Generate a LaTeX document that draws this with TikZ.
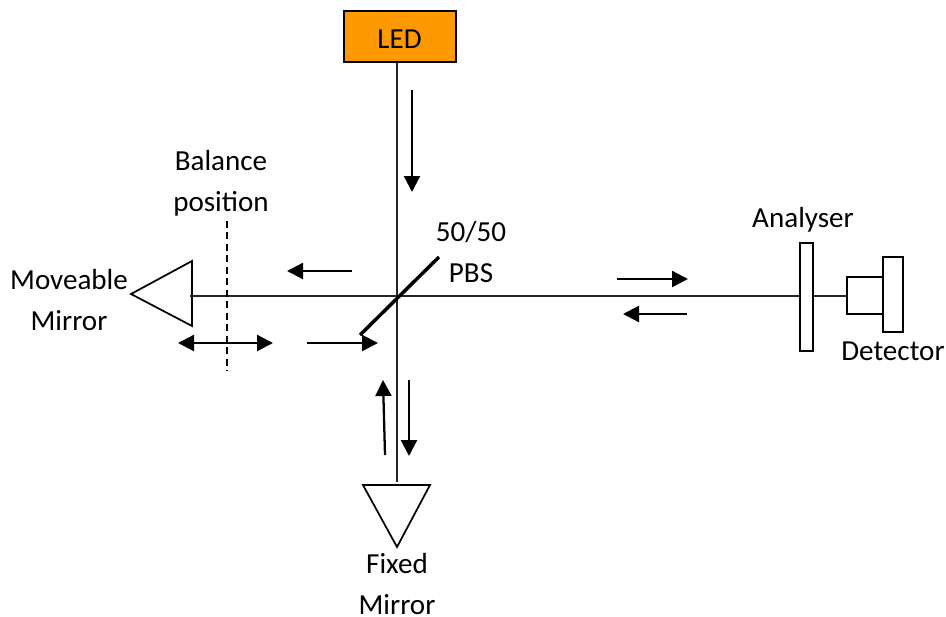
\documentclass[tikz,border=0pt]{standalone}
\usepackage{fontspec}
\setmainfont{Carlito}
\usetikzlibrary{arrows.meta}
\definecolor{ledorange}{RGB}{255,153,0}
\begin{document}
\begin{tikzpicture}[
x=0.75pt,y=-0.75pt,
recnode/.style={rectangle, draw=black, line width=1.5pt, fill=white, inner sep=0pt},
lednode/.style={recnode, fill=ledorange, minimum width=84pt, minimum height=38pt},
txtnode/.style={align=center, inner sep=0pt, font=\fontsize{21.8}{30.4}\selectfont},
beam/.style={draw=black!85, line width=1.4pt},
mirror/.style={draw=black, line width=1.3pt, line join=miter, fill=white},
flow/.style={-{Triangle[length=12pt,width=12pt]}, line width=1.7pt},
]
\useasboundingbox (0,0) rectangle (946,617);
%Points
\coordinate (cen) at (397,296);
\coordinate (mlo) at (192,326);
\coordinate (mup) at (192,261);
\coordinate (mtip) at (131,294);
\coordinate (mbeam) at (190,296);
\coordinate (fl) at (363,485);
\coordinate (fr) at (430,485);
\coordinate (ftip) at (397,547);
\coordinate (fbeam) at (397,482);
\coordinate (bs1) at (360,335);
\coordinate (bs2) at (439,257);
\coordinate (bal1) at (227,221);
\coordinate (bal2) at (227,371);
%Beams
\draw[mirror] (mtip) -- (mup) -- (mlo) -- cycle;
\draw[mirror] (fl) -- (fr) -- (ftip) -- cycle;
\draw[beam] (mbeam) -- (847,296);
%Nodes
\node[lednode](led) at (399.5,36.5){};
\node[txtnode] (ledtxt) at (399.5,39.5){LED};
\node[recnode,minimum width=9.5pt,minimum height=81pt](ana) at (806.5,297){};
\node[recnode,minimum width=27pt,minimum height=28pt](detsmall) at (865,295.5){};
\node[recnode,minimum width=15pt,minimum height=56pt](detbig) at (893,294.5){};
\node[txtnode](balance) at (221,183){Balance\\position};
\node[txtnode](pbs) at (471,252){50/50\\PBS};
\node[txtnode](moveable) at (69,300){Moveable\\Mirror};
\node[txtnode](fixed) at (397,584){Fixed\\Mirror};
\node[txtnode](analyser) at (803,220){Analyser};
\node[txtnode](detector) at (893,351){Detector};
\draw[beam] (led.south -| cen) -- (fbeam);
\draw[line width=2.6pt] (bs1) -- (bs2);
\draw[dash pattern=on 5.2pt off 3.4pt, line width=1pt] (bal1) -- (bal2);
%Arrows
\coordinate (a1) at (412,90);  \coordinate (a2) at (412,192);
\coordinate (b1) at (352,271); \coordinate (b2) at (287,271);
\coordinate (c1) at (178,343); \coordinate (c2) at (273,343);
\coordinate (d1) at (307,343); \coordinate (d2) at (378,343);
\coordinate (e1) at (385,455); \coordinate (e2) at (383,380);
\coordinate (f1) at (409,380); \coordinate (f2) at (409,456);
\coordinate (g1) at (617,279); \coordinate (g2) at (688,279);
\coordinate (h1) at (687,314); \coordinate (h2) at (623,314);
\draw[flow] (a1) -- (a2);
\draw[flow] (b1) -- (b2);
\draw[flow,{Triangle[length=12pt,width=12pt]}-{Triangle[length=12pt,width=12pt]}] (c1) -- (c2);
\draw[flow] (d1) -- (d2);
\draw[flow] (e1) -- (e2);
\draw[flow] (f1) -- (f2);
\draw[flow] (g1) -- (g2);
\draw[flow] (h1) -- (h2);
\end{tikzpicture}
\end{document}
